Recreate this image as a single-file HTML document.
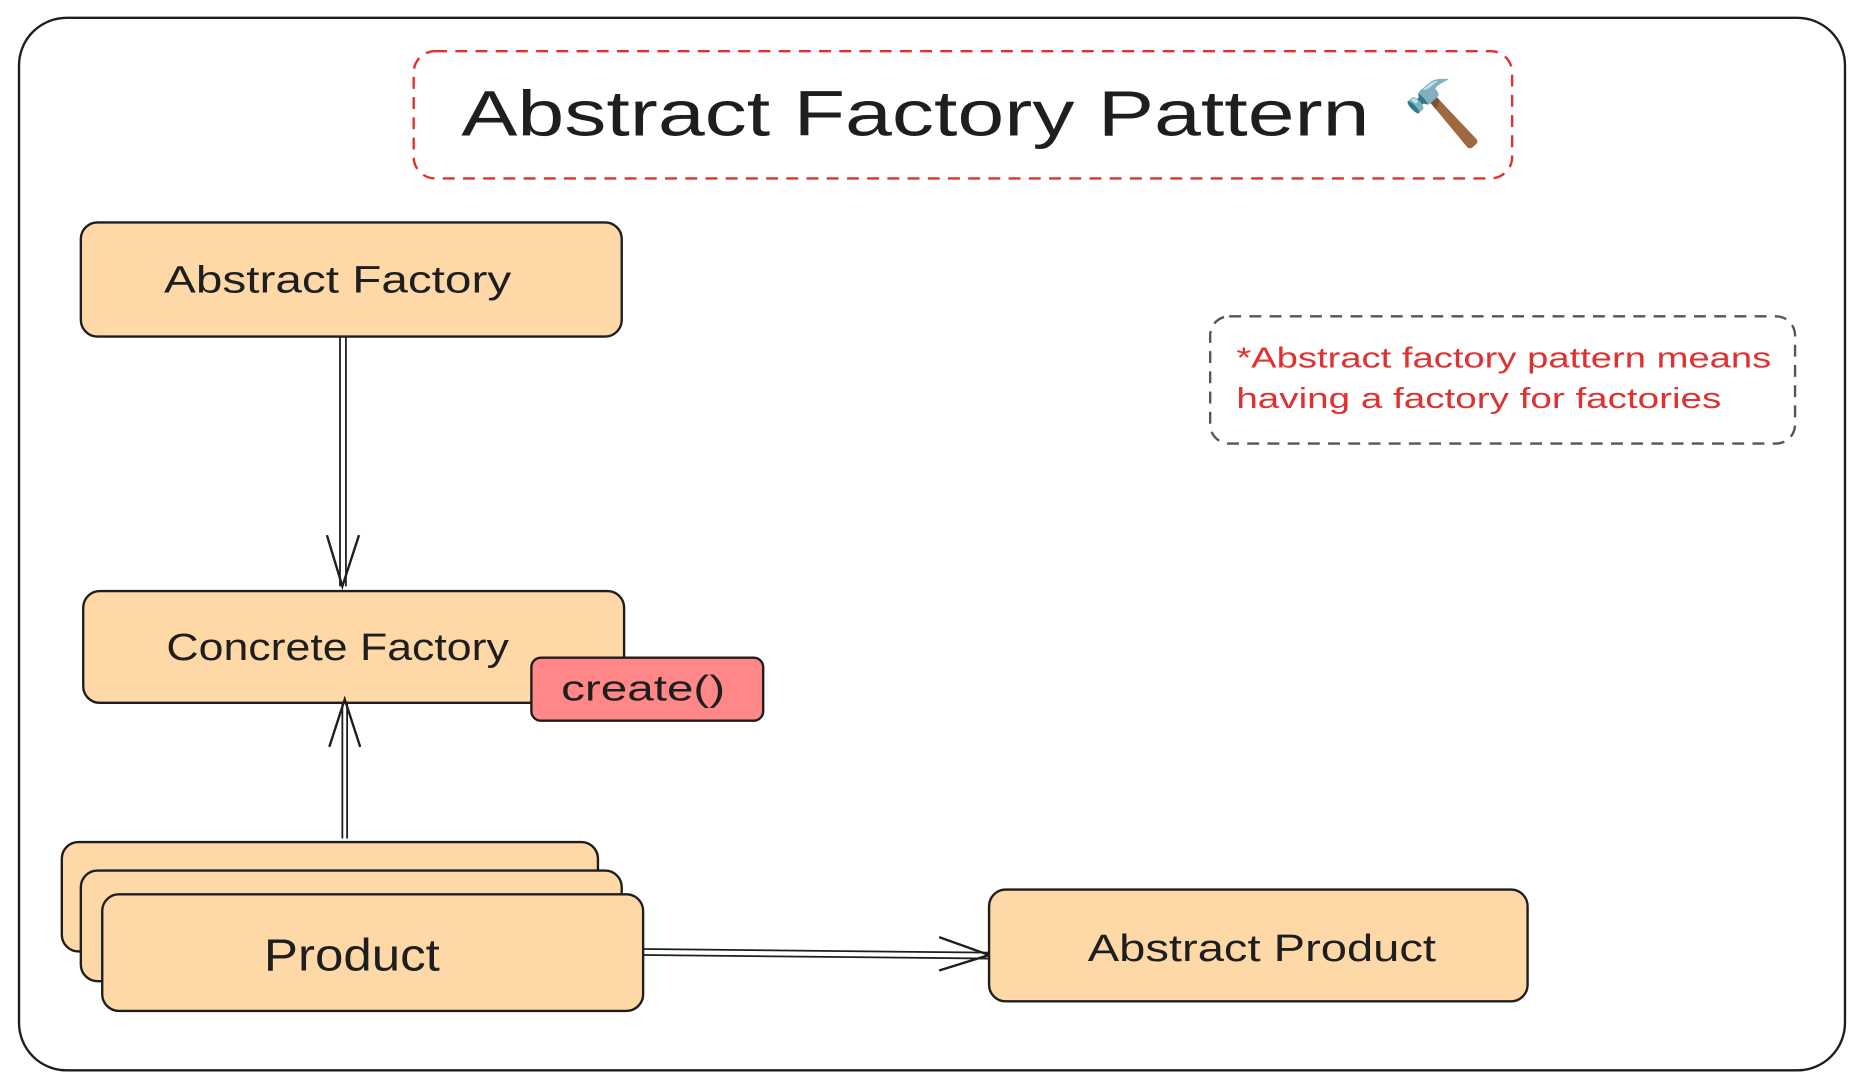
<!DOCTYPE html>
<html><head><meta charset="utf-8"><style>
html,body{margin:0;padding:0;background:#fff;width:1864px;height:1087px;overflow:hidden}
svg{display:block}
text{font-family:"Liberation Sans","DejaVu Sans",sans-serif;fill:#1e1e1e}
</style></head><body>
<svg width="1864" height="1087" viewBox="0 0 1568 914" preserveAspectRatio="none">
<rect x="16" y="15" width="1536" height="885" rx="40" fill="#fff" stroke="#1e1e1e" stroke-width="2"/>
<rect x="348" y="43" width="924" height="107" rx="18" fill="none" stroke="#e03131" stroke-width="2" stroke-dasharray="10 7"/>
<text x="388" y="114" font-size="54" textLength="764" lengthAdjust="spacingAndGlyphs">Abstract Factory Pattern</text>
<text x="1180" y="114" font-size="54">🔨</text>

<rect x="1018" y="266" width="492" height="107" rx="16" fill="none" stroke="#555" stroke-width="2" stroke-dasharray="10 7"/>
<text x="1040" y="309" font-size="24" textLength="450" lengthAdjust="spacingAndGlyphs" style="fill:#e03131">*Abstract factory pattern means</text>
<text x="1040" y="343" font-size="24" textLength="408" lengthAdjust="spacingAndGlyphs" style="fill:#e03131">having a factory for factories</text>

<rect x="68" y="187" width="455" height="96" rx="14" fill="#ffd8a8" stroke="#1e1e1e" stroke-width="2"/>
<text x="138" y="246" font-size="32" textLength="292" lengthAdjust="spacingAndGlyphs">Abstract Factory</text>

<line x1="286" y1="283" x2="286" y2="493" stroke="#1e1e1e" stroke-width="1.5"/>
<line x1="291" y1="283" x2="291" y2="493" stroke="#1e1e1e" stroke-width="1.5"/>
<polyline points="275,450 288,493 302,450" fill="none" stroke="#1e1e1e" stroke-width="2"/>

<rect x="70" y="497" width="455" height="94" rx="14" fill="#ffd8a8" stroke="#1e1e1e" stroke-width="2"/>
<text x="140" y="555" font-size="32" textLength="288" lengthAdjust="spacingAndGlyphs">Concrete Factory</text>
<rect x="447" y="553" width="195" height="53" rx="8" fill="#ff8787" stroke="#1e1e1e" stroke-width="2"/>
<text x="472" y="589" font-size="30" textLength="138" lengthAdjust="spacingAndGlyphs">create()</text>

<line x1="288" y1="705" x2="288" y2="590" stroke="#1e1e1e" stroke-width="1.5"/>
<line x1="292" y1="705" x2="292" y2="590" stroke="#1e1e1e" stroke-width="1.5"/>
<polyline points="277,628 290,588 303,628" fill="none" stroke="#1e1e1e" stroke-width="2"/>

<rect x="52" y="708" width="451" height="92" rx="14" fill="#ffd8a8" stroke="#1e1e1e" stroke-width="2"/>
<rect x="68" y="732" width="455" height="93" rx="14" fill="#ffd8a8" stroke="#1e1e1e" stroke-width="2"/>
<rect x="86" y="752" width="455" height="98" rx="14" fill="#ffd8a8" stroke="#1e1e1e" stroke-width="2"/>
<text x="222" y="816" font-size="38" textLength="148" lengthAdjust="spacingAndGlyphs">Product</text>

<line x1="541" y1="798" x2="832" y2="801" stroke="#1e1e1e" stroke-width="1.5"/>
<line x1="541" y1="803" x2="832" y2="806" stroke="#1e1e1e" stroke-width="1.5"/>
<polyline points="790,788 832,803 790,816" fill="none" stroke="#1e1e1e" stroke-width="2"/>

<rect x="832" y="748" width="453" height="94" rx="14" fill="#ffd8a8" stroke="#1e1e1e" stroke-width="2"/>
<text x="915" y="808" font-size="32" textLength="293" lengthAdjust="spacingAndGlyphs">Abstract Product</text>
</svg>
</body></html>
